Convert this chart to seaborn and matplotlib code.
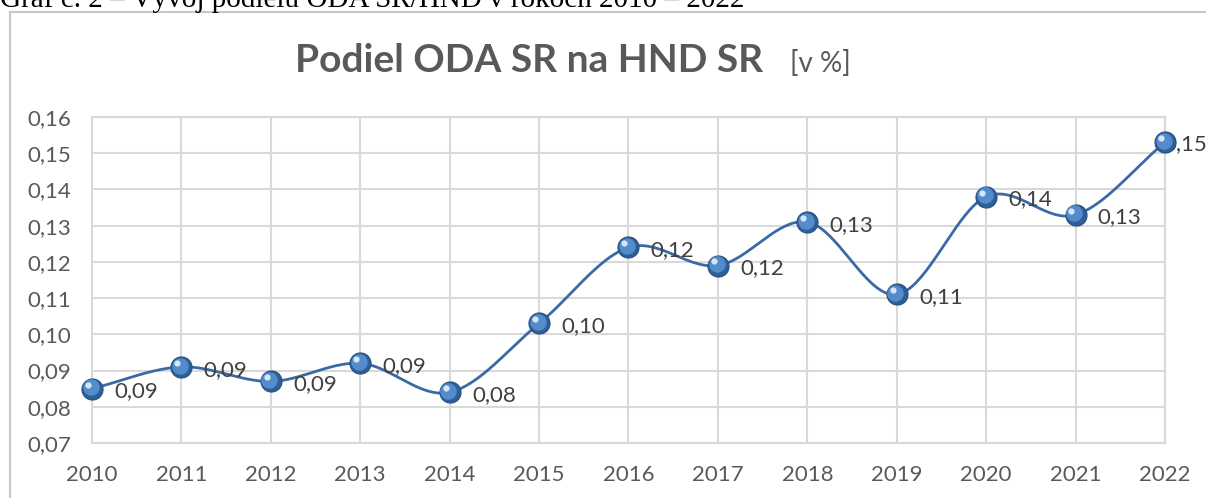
import numpy as np
import pandas as pd
import matplotlib
matplotlib.use("Agg")
import matplotlib.pyplot as plt
import matplotlib.transforms as mtransforms
from matplotlib.patches import Rectangle
import seaborn as sns

# data
years = [2010, 2011, 2012, 2013, 2014, 2015, 2016, 2017, 2018, 2019, 2020, 2021, 2022]
share = [0.085, 0.091, 0.087, 0.092, 0.084, 0.103, 0.124, 0.119, 0.131, 0.111, 0.138, 0.133, 0.153]
point_labels = ["0,09", "0,09", "0,09", "0,09", "0,08", "0,10", "0,12",
                "0,12", "0,13", "0,11", "0,14", "0,13", "0,15"]
y_ticks = [0.07, 0.08, 0.09, 0.10, 0.11, 0.12, 0.13, 0.14, 0.15, 0.16]

df = pd.DataFrame({"rok": years, "podiel": share})

sns.set_theme(style="white")
plt.rcParams["font.family"] = ["Lato", "DejaVu Sans"]

text_gray = "#595959"
grid_gray = "#d9d9d9"
line_blue = "#3a6aa6"

fig = plt.figure(figsize=(12.06, 4.98), dpi=100)

# chart frame (excel chart area border)
fig.patches.append(Rectangle((10 / 1206, -0.2), 1.2, 1 - 12 / 498 + 0.2,
                             transform=fig.transFigure, fill=False,
                             edgecolor="#c8c8c8", linewidth=1.5, zorder=0))

# caption of the document, cut at the top edge
fig.text(0.0, 1 - 7 / 498, "Graf č. 2 – Vývoj podielu ODA SR/HND v rokoch 2010 – 2022",
         family="Liberation Serif", fontsize=21, color="black", va="baseline", ha="left")

# title
fig.text(763 / 1206, 1 - 72 / 498, "Podiel ODA SR na HND SR", fontsize=28, fontweight="bold",
         color=text_gray, ha="right", va="baseline")
fig.text(820 / 1206, 1 - 72 / 498, "[v %]", fontsize=20, color=text_gray,
         ha="center", va="baseline")

ax = fig.add_axes([92 / 1206, 1 - 443 / 498, (1165 - 92) / 1206, (443 - 117) / 498])

# smoothed line like excel (bezier through the points)
x = df["rok"].to_numpy(dtype=float)
y = df["podiel"].to_numpy(dtype=float)
mx = np.gradient(x)
my = np.gradient(y)
xs, ys = [], []
t = np.linspace(0, 1, 40)
for i in range(len(x) - 1):
    h00 = 2 * t**3 - 3 * t**2 + 1
    h10 = t**3 - 2 * t**2 + t
    h01 = -2 * t**3 + 3 * t**2
    h11 = t**3 - t**2
    xs.extend(h00 * x[i] + h10 * mx[i] + h01 * x[i + 1] + h11 * mx[i + 1])
    ys.extend(h00 * y[i] + h10 * my[i] + h01 * y[i + 1] + h11 * my[i + 1])
smooth = pd.DataFrame({"rok": xs, "podiel": ys})
sns.lineplot(data=smooth, x="rok", y="podiel", color=line_blue, linewidth=2,
             sort=False, estimator=None, ax=ax, zorder=3)

# sphere-like markers
sns.scatterplot(data=df, x="rok", y="podiel", s=230, color="#2f5f98",
                edgecolor="#27507f", linewidth=0.8, ax=ax, zorder=5, clip_on=False)
sns.scatterplot(data=df, x="rok", y="podiel", s=140, color="#548bca",
                linewidth=0, ax=ax, zorder=6, clip_on=False,
                transform=ax.transData + mtransforms.ScaledTranslation(-1 / 72, 1 / 72, fig.dpi_scale_trans))
sns.scatterplot(data=df, x="rok", y="podiel", s=20, color="#d6e6f7",
                linewidth=0, ax=ax, zorder=7, clip_on=False,
                transform=ax.transData + mtransforms.ScaledTranslation(-3 / 72, 3 / 72, fig.dpi_scale_trans))

# data labels right of the points; the last one is pushed back onto the marker
for i, (xv, yv, lab) in enumerate(zip(years, share, point_labels)):
    off = (16, -2) if i < len(years) - 1 else (-1, -1)
    ax.annotate(lab, (xv, yv), xytext=off, textcoords="offset points",
                fontsize=16, color="#404040", ha="left", va="center",
                annotation_clip=False, zorder=4)

ax.set_xlim(2010, 2022)
ax.set_ylim(0.07, 0.16)
ax.set_xticks(years)
ax.set_xticklabels([str(v) for v in years])
ax.set_yticks(y_ticks)
ax.set_yticklabels([f"{v:.2f}".replace(".", ",") for v in y_ticks])
ax.tick_params(axis="both", labelsize=16, colors=text_gray, length=0)
ax.tick_params(axis="x", pad=16)
ax.tick_params(axis="y", pad=15)
ax.grid(True, color=grid_gray, linewidth=1.5)
for sp in ax.spines.values():
    sp.set_color(grid_gray)
    sp.set_linewidth(1.5)
ax.set_xlabel("")
ax.set_ylabel("")
ax.set_facecolor("white")

fig.savefig("out.png", dpi=100, facecolor="white")
